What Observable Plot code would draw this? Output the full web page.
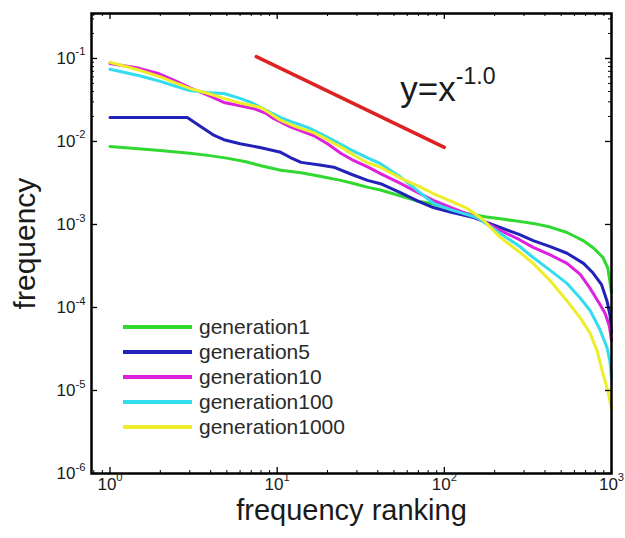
<!DOCTYPE html>
<html><head><meta charset="utf-8">
<script src="https://cdn.jsdelivr.net/npm/d3@7"></script>
<script src="https://cdn.jsdelivr.net/npm/@observablehq/plot@0.6"></script>
<style>
body{margin:0;background:#fff;}
#chart{position:relative;width:625px;height:538px;}
</style>
</head><body><div id="chart"></div>
<script>
// ---------- data ----------
const seriesNames = ["generation1","generation5","generation10","generation100","generation1000"];
const seriesColors = ["#30d830","#2222b8","#dd22dd","#33dcee","#eeee28"];

const gen1 = [[1,0.0087],[2,0.0078],[3,0.0072],[3.85,0.0068],[5,0.0063],[6.5,0.0057],[8,0.0051],[10.5,0.0045],[13.9,0.0042],[18,0.0038],[24,0.0034],[29,0.0031],[35,0.0028],[41.5,0.0026],[55,0.0022],[70,0.0019],[86,0.00176],[110,0.00152],[137,0.00136],[175,0.00124],[216,0.00117],[280,0.00109],[340,0.00103],[430,0.00093],[542,0.00080],[676,0.00064],[780,0.00052],[889,0.00040],[950,0.00030],[980,0.00020],[1000,0.00015]];
const gen5 = [[1,0.0194],[2,0.0194],[2.9,0.0194],[3.5,0.0150],[4.2,0.0118],[4.8,0.0105],[6,0.0094],[8,0.0084],[10.5,0.0074],[12,0.0064],[13.9,0.0056],[18,0.0052],[21.8,0.0049],[28,0.0040],[34.7,0.0034],[41.5,0.0031],[55,0.0024],[70,0.0019],[86,0.0016],[110,0.00140],[150,0.00121],[216,0.00092],[280,0.00076],[340,0.00064],[430,0.00054],[542,0.00045],[680,0.00034],[776,0.00026],[870,0.00019],[940,0.00012],[980,0.00008],[1000,0.00005]];
const gen10 = [[1,0.087],[1.5,0.076],[1.94,0.066],[2.5,0.053],[3.04,0.044],[4,0.035],[4.8,0.0295],[6,0.027],[7.2,0.025],[8.5,0.022],[9.5,0.0189],[12,0.015],[16.5,0.0118],[20,0.0094],[24,0.0072],[28.6,0.0059],[35,0.0049],[41.5,0.0041],[55,0.0031],[70,0.0024],[86,0.00195],[110,0.00160],[150,0.00125],[216,0.00085],[280,0.00066],[340,0.00053],[430,0.00043],[542,0.00034],[650,0.00025],[745,0.00017],[850,0.00011],[915,0.000085],[970,0.00006],[1000,0.00004]];
const gen100 = [[1,0.074],[1.5,0.062],[2,0.053],[2.5,0.046],[3.0,0.041],[3.8,0.039],[4.8,0.0378],[6,0.033],[7.2,0.0287],[8.5,0.024],[10.5,0.0194],[12,0.0175],[15.2,0.0148],[18,0.0125],[21.7,0.0103],[28,0.0078],[35,0.0063],[41.5,0.0054],[55,0.0037],[70,0.0025],[86,0.0018],[110,0.00150],[157,0.00121],[216,0.00078],[280,0.00055],[340,0.00040],[430,0.00028],[542,0.000195],[650,0.000130],[745,0.000092],[850,0.000055],[940,0.000033],[980,0.000022],[1000,0.000014]];
const gen1000 = [[1,0.090],[1.5,0.072],[2,0.060],[2.5,0.050],[3,0.0436],[4,0.037],[4.8,0.033],[6,0.029],[8,0.0257],[9,0.022],[10.5,0.0179],[13,0.0150],[16.5,0.0128],[20,0.0105],[25,0.0082],[30,0.0065],[35,0.0055],[41.5,0.0049],[55,0.0036],[70,0.0029],[86,0.00236],[110,0.00190],[137,0.00156],[170,0.00115],[216,0.00070],[280,0.00047],[340,0.00034],[430,0.00021],[542,0.00012],[650,0.000075],[745,0.000049],[820,0.000030],[889,0.000016],[950,0.000010],[1000,0.000006]];
const seriesData = [gen1, gen5, gen10, gen100, gen1000];

const refLine = [[7.5,0.105],[100,0.0085]];
const refLabel = "y=x^-1.0";

const xTicks = [1,10,100,1000];
const xTickLabels = ["10^0","10^1","10^2","10^3"];
const yTicks = [1e-6,1e-5,1e-4,1e-3,1e-2,1e-1];
const yTickLabels = ["10^-6","10^-5","10^-4","10^-3","10^-2","10^-1"];
const xLabel = "frequency ranking";
const yLabel = "frequency";

// ---------- layout ----------
const W = 625, H = 538, mL = 91, mR = 14, mT = 13, mB = 65;
const xDomain = [0.775, 1000], yDomain = [1e-6, 0.348];
const FONT = "'Liberation Sans', Arial, Helvetica, sans-serif";
const decX = (W - mL - mR) / Math.log10(xDomain[1] / xDomain[0]);
const decY = (H - mT - mB) / Math.log10(yDomain[1] / yDomain[0]);
const fx = px => 10 ** (px / decX), fy = px => 10 ** (px / decY);

const rows = seriesData.flatMap((arr, i) => arr.map(([x, y]) => ({name: seriesNames[i], x, y})));
const refRows = refLine.map(([x, y]) => ({x, y}));

const minor = (lo, hi) => {
  const out = [];
  for (let k = -2; k <= 3; k++) for (let m = 2; m <= 9; m++) {
    const v = m * 10 ** k; if (v > lo && v < hi) out.push(v);
  }
  return out;
};
const xMinor = minor(xDomain[0], xDomain[1]);
const yMinor = minor(yDomain[0], yDomain[1]);

const LMaj = 6, LMin = 3;
const chart = Plot.plot({
  width: W, height: H,
  marginLeft: mL, marginRight: mR, marginTop: mT, marginBottom: mB,
  style: {fontFamily: FONT, color: "#1a1a1a", background: "#fff"},
  x: {type: "log", domain: xDomain},
  y: {type: "log", domain: yDomain},
  color: {domain: seriesNames, range: seriesColors},
  marks: [
    Plot.line(rows, {x: "x", y: "y", z: "name", stroke: "name", strokeWidth: 3}),
    Plot.line(refRows, {x: "x", y: "y", stroke: "#dd2222", strokeWidth: 3.5}),
    Plot.text([refLabel], {
      x: Math.sqrt(refLine[0][0] * refLine[1][0]), y: Math.sqrt(refLine[0][1] * refLine[1][1]),
      text: d => d, textAnchor: "start", lineAnchor: "middle", dx: 50, dy: -12, fontSize: 35, fill: "#1a1a1a"
    }),
    // inward ticks
    Plot.ruleX(xTicks, {x: d => d, y1: yDomain[0], y2: yDomain[0] * fy(LMaj), stroke: "#000", strokeWidth: 1.3}),
    Plot.ruleX(xTicks, {x: d => d, y1: yDomain[1], y2: yDomain[1] / fy(LMaj), stroke: "#000", strokeWidth: 1.3}),
    Plot.ruleX(xMinor, {x: d => d, y1: yDomain[0], y2: yDomain[0] * fy(LMin), stroke: "#000", strokeWidth: 1}),
    Plot.ruleX(xMinor, {x: d => d, y1: yDomain[1], y2: yDomain[1] / fy(LMin), stroke: "#000", strokeWidth: 1}),
    Plot.ruleY(yTicks, {y: d => d, x1: xDomain[0], x2: xDomain[0] * fx(LMaj), stroke: "#000", strokeWidth: 1.3}),
    Plot.ruleY(yTicks, {y: d => d, x1: xDomain[1], x2: xDomain[1] / fx(LMaj), stroke: "#000", strokeWidth: 1.3}),
    Plot.ruleY(yMinor, {y: d => d, x1: xDomain[0], x2: xDomain[0] * fx(LMin), stroke: "#000", strokeWidth: 1}),
    Plot.ruleY(yMinor, {y: d => d, x1: xDomain[1], x2: xDomain[1] / fx(LMin), stroke: "#000", strokeWidth: 1}),
    Plot.frame({stroke: "#000", strokeWidth: 2.5}),
    Plot.axisX({ticks: xTicks, tickSize: 0, tickPadding: 4, fontSize: 17, label: null,
      tickFormat: d => xTickLabels[xTicks.indexOf(d)]}),
    Plot.axisY({ticks: yTicks, tickSize: 0, tickPadding: 6, fontSize: 17, label: null,
      tickFormat: d => yTickLabels[yTicks.indexOf(d)]}),
    Plot.text([xLabel], {frameAnchor: "bottom", text: d => d, textAnchor: "middle", lineAnchor: "middle",
      dy: 37, fontSize: 29, fill: "#1a1a1a"}),
    Plot.text([yLabel], {frameAnchor: "left", text: d => d, textAnchor: "middle", lineAnchor: "middle",
      dx: -66, rotate: -90, fontSize: 30, fill: "#1a1a1a"})
  ]
});

// superscripts ("a^b")
chart.querySelectorAll("text").forEach(t => {
  const s = t.textContent; const i = s.indexOf("^");
  if (i < 0) return;
  t.textContent = s.slice(0, i);
  const sp = document.createElementNS("http://www.w3.org/2000/svg", "tspan");
  sp.style.fontSize = "66%";
  sp.setAttribute("dy", "-0.75em");
  sp.textContent = s.slice(i + 1);
  t.appendChild(sp);
});

// legend inside the plot area
const lg = d3.select(chart).append("g").attr("font-family", FONT).attr("font-size", 21)
  .attr("fill", "#2a2a2a").attr("text-anchor", "start");
seriesNames.forEach((n, i) => {
  const y = 327 + 25 * i;
  lg.append("line").attr("x1", 123).attr("x2", 192).attr("y1", y).attr("y2", y)
    .attr("stroke", seriesColors[i]).attr("stroke-width", 4);
  lg.append("text").attr("x", 199).attr("y", y).attr("dy", "0.35em").text(n);
});

document.getElementById("chart").appendChild(chart);
</script>
</body></html>
